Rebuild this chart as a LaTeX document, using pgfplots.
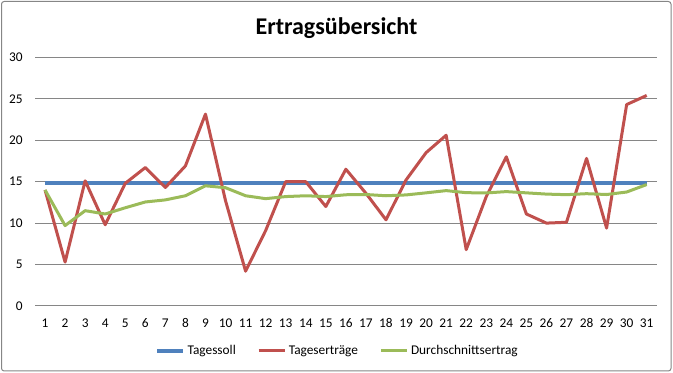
\documentclass[border=0pt]{standalone}
\usepackage{pgfplots}
\pgfplotsset{compat=1.18}
\usepackage{pgfplotstable}
\usepackage{fontspec}
\setmainfont{Carlito}
\definecolor{xblue}{HTML}{4F81BD}
\definecolor{xred}{HTML}{C0504D}
\definecolor{xgreen}{HTML}{9BBB59}
\definecolor{xgrid}{HTML}{868686}
\pgfplotstableread{
x red green soll
1 14.0 14.0 14.8
2 5.3 9.7 14.8
3 15.1 11.5 14.8
4 9.8 11.1 14.8
5 14.8 11.85 14.8
6 16.7 12.55 14.8
7 14.3 12.8 14.8
8 16.9 13.3 14.8
9 23.15 14.5 14.8
10 12.7 14.27 14.8
11 4.2 13.3 14.8
12 9.1 12.95 14.8
13 15.0 13.2 14.8
14 15.0 13.3 14.8
15 12.0 13.2 14.8
16 16.5 13.42 14.8
17 13.6 13.45 14.8
18 10.4 13.3 14.8
19 15.2 13.4 14.8
20 18.5 13.65 14.8
21 20.6 13.92 14.8
22 6.8 13.67 14.8
23 13.2 13.64 14.8
24 18.0 13.8 14.8
25 11.1 13.65 14.8
26 10.0 13.5 14.8
27 10.1 13.43 14.8
28 17.8 13.55 14.8
29 9.4 13.45 14.8
30 24.3 13.75 14.8
31 25.4 14.65 14.8
}\datatable
\begin{document}
\begin{tikzpicture}[x=0.75pt,y=0.75pt]
\path[use as bounding box] (0,0) rectangle (673,373);
\draw[xgrid, line width=0.75pt, rounded corners=2pt] (1.5,2) rectangle (671,371.5);
\node[anchor=base, font=\fontsize{18}{22}\selectfont\bfseries] at (336.5,338.7) {Ertragsübersicht};
\begin{axis}[
  at={(26.25pt,50.25pt)}, anchor=south west,
  scale only axis, width=466.3pt, height=186.5pt,
  xmin=0.5, xmax=31.5, ymin=0, ymax=30,
  xtick={1,...,31}, ytick={0,5,...,30},
  ymajorgrids, major grid style={xgrid, line width=0.75pt},
  axis line style={draw=none},
  major tick length=0pt,
  tick label style={font=\fontsize{10}{12}\selectfont},
  /pgf/number format/assume math mode=true,
  yticklabel style={xshift=-5.7pt},
  xticklabel style={yshift=-6pt},
  clip=false,
  legend columns=3,
  legend style={at={(0.487,-0.18)}, anchor=center, draw=none, fill=none,
    font=\fontsize{10}{12}\selectfont,
    /tikz/every even column/.append style={column sep=14pt},
    inner sep=0pt},
  legend image code/.code={\draw[#1] (0pt,0pt) -- (19.5pt,0pt);},
]
\addplot[xblue, line width=2.8pt, no markers] table[x=x, y=soll] {\datatable};
\addlegendentry{Tagessoll}
\addplot[xred, line width=2.25pt, no markers, line join=round] table[x=x, y=red] {\datatable};
\addlegendentry{Tageserträge}
\addplot[xgreen, line width=2.25pt, no markers, line join=round] table[x=x, y=green] {\datatable};
\addlegendentry{Durchschnittsertrag}
\end{axis}
\end{tikzpicture}
\end{document}
